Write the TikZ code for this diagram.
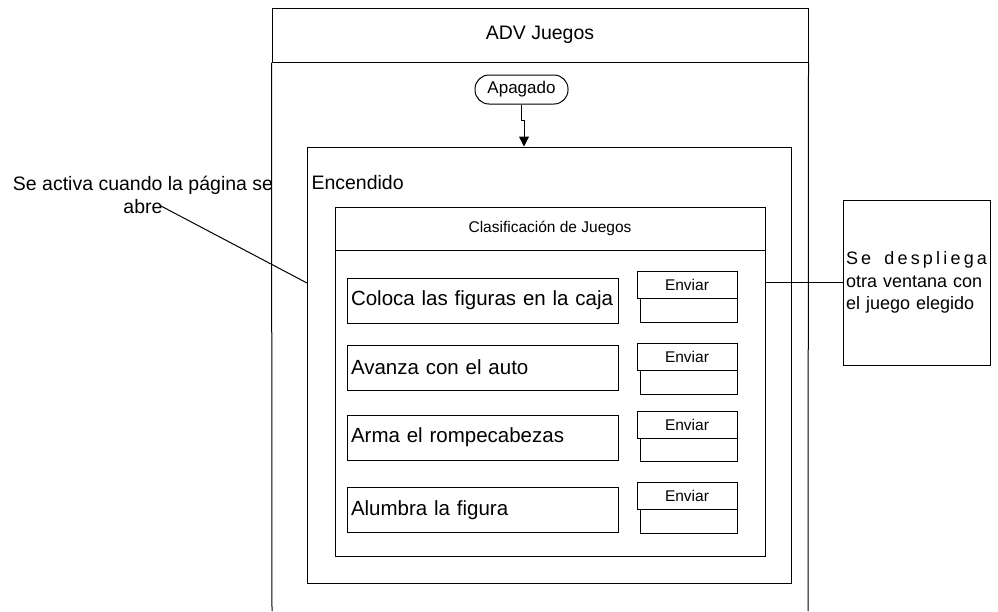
\documentclass[tikz,border=0pt]{standalone}
\usepackage{fontspec}
\setmainfont{Liberation Sans}
\usetikzlibrary{arrows.meta}

\tikzset{
  caja/.style={draw,rectangle,inner sep=0pt},
  juego/.style={caja,minimum width=271pt,minimum height=45pt,inner xsep=4pt,
    text width=263pt,align=left,font=\fontsize{20.5}{24}\selectfont},
  enviar/.style={caja,minimum width=100pt,minimum height=27pt,font=\fontsize{15.5}{18}\selectfont},
  hueco/.style={caja,minimum width=97pt,minimum height=24pt},
}

\begin{document}
\begin{tikzpicture}[x=1pt,y=-1pt,line width=1pt]
\useasboundingbox (0,0) rectangle (998,611);

% carril
\node[caja,minimum width=536pt,minimum height=54pt,font=\fontsize{19.5}{23}\selectfont] (adv) at (540,35) {ADV Juegos};
\draw (adv.south west) -- (272,611);
\draw (adv.south east) -- (808,611);

\node[caja,rounded corners=14pt,minimum width=93pt,minimum height=29pt,font=\fontsize{17}{20}\selectfont] (apagado) at (521.5,89.5) {Apagado};

\node[caja,minimum width=484pt,minimum height=436pt] (encendido) at (549,365) {};
\node[anchor=west,inner sep=0pt,font=\fontsize{19.5}{23}\selectfont] (enc-lbl) at (311,183) {Encendido};

\coordinate (quiebre) at (524,120);
\draw[-{Triangle[length=10pt,width=10pt]}] (apagado.south) |- (quiebre) -- (quiebre |- encendido.north);

% clasificacion
\node[caja,minimum width=430pt,minimum height=43pt,font=\fontsize{15.5}{18}\selectfont] (clas-tit) at (550,228.5) {Clasificación de Juegos};
\node[caja,minimum width=430pt,minimum height=306pt] (clas) at (550,403) {};

\node[juego] (j1) at (482.5,300.5) {Coloca las figuras en la caja};
\node[juego] (j2) at (482.5,367.5) {Avanza con el auto};
\node[juego] (j3) at (482.5,437.5) {Arma el rompecabezas};
\node[juego] (j4) at (482.5,510) {Alumbra la figura};

\node[hueco] (h1) at (688.5,310.5) {};
\node[hueco] (h2) at (688.5,382) {};
\node[hueco] (h3) at (688.5,449.5) {};
\node[hueco] (h4) at (688.5,521) {};
\node[enviar,fill=white] (e1) at (687,285) {Enviar};
\node[enviar,fill=white] (e2) at (687,357) {Enviar};
\node[enviar,fill=white] (e3) at (687,424.5) {Enviar};
\node[enviar,fill=white] (e4) at (687,496) {Enviar};

% notas
\node[align=center,inner sep=0pt,font=\fontsize{19.5}{23}\selectfont] (nota-izq) at (143,194.5) {Se activa cuando la página se\\abre};
\coordinate (abre) at (161,206);
\coordinate (enc-pt) at (307,283);
\draw (abre) -- (enc-pt);

\node[caja,minimum width=147pt,minimum height=165pt,inner xsep=3pt,text width=141pt,align=left,
  font=\fontsize{18}{22.5}\selectfont] (nota-der) at (916.5,282.5)
  {\makebox[141pt]{S\hfill e\hspace{10pt}\hfill d\hfill e\hfill s\hfill p\hfill l\hfill i\hfill e\hfill g\hfill a}\\otra ventana con\\el juego elegido};
\draw (nota-der.west -| clas.east) -- (nota-der.west);
\end{tikzpicture}
\end{document}
